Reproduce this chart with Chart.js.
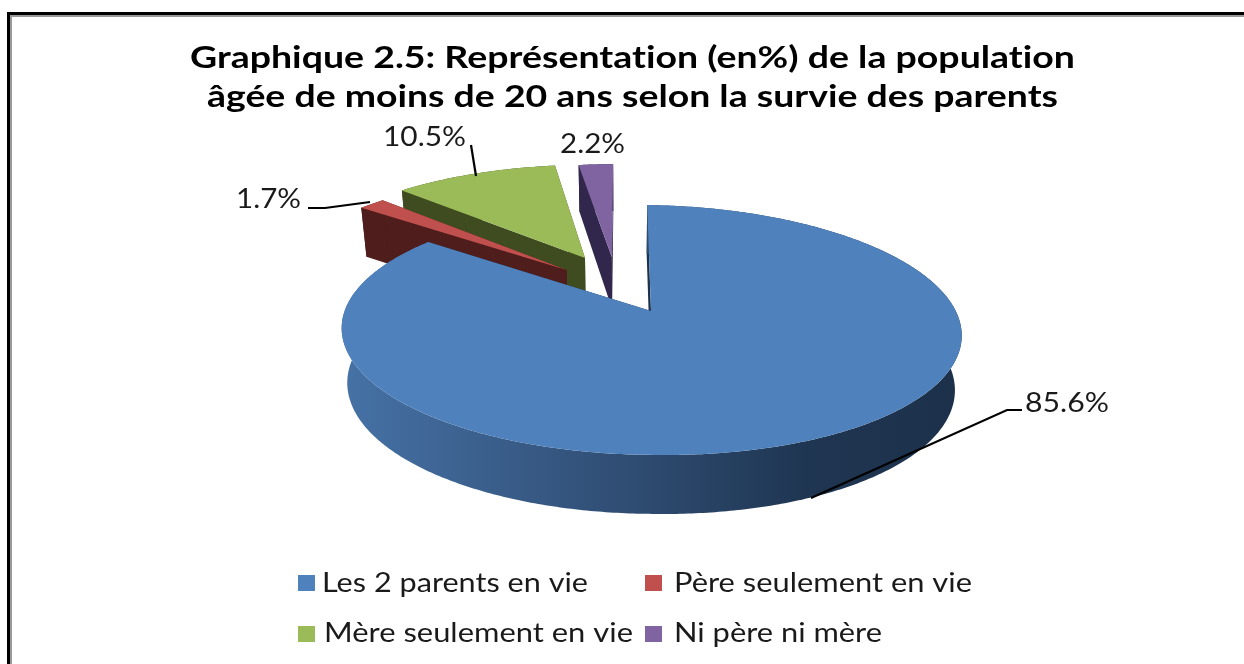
<!DOCTYPE html>
<html lang="fr">
<head>
<meta charset="utf-8">
<title>Graphique 2.5</title>
<style>
html,body{margin:0;padding:0;background:#fff;overflow:hidden}
#wrap{position:absolute;left:0;top:0;width:1244px;height:664px}
canvas{display:block;filter:blur(0.6px)}
</style>
</head>
<body>
<div id="wrap"><canvas id="c" width="1244" height="664"></canvas></div>
<script src="https://cdn.jsdelivr.net/npm/chart.js@4/dist/chart.umd.js"></script>
<script>
const titleLines = ["Graphique 2.5: Représentation (en%) de la population", "âgée de moins de 20 ans selon la survie des parents"];
const categories = ["Les 2 parents en vie", "Père seulement en vie", "Mère seulement en vie", "Ni père ni mère"];
const values = [85.6, 1.7, 10.5, 2.2];
const valueLabels = ["85.6%", "1.7%", "10.5%", "2.2%"];
const topColors = ["#4f81bd", "#c0504d", "#9bbb59", "#8064a2"];
const wallColors = ["#1d3149", "#4f1d1b", "#3e4c20", "#31264b"];

// --- perspective of the tilted disc (unit radius world -> screen)
const VP = {x: 622, ox: 29, rx: 306.4, y: 311, ry: 122, p: 0.152, shrink: 0.98, tilt: 0.012, tiltFrom: 650};
const explode = [[0, 0], [-0.285, -0.354], [-0.224, -0.465], [-0.13, -0.472]];
const drawOrder = [3, 2, 1, 0];
const project = (u, v, low) => {
  const w = 1 - VP.p * v;
  const s = low ? VP.shrink : 1;
  const x = VP.x + s * (VP.ox + VP.rx * u) / w;
  const drop = low ? 54 + 5 * v : 0;
  return [x, VP.y + VP.ry * v / w + drop + Math.max(0, x - VP.tiltFrom) * VP.tilt];
};

function poly(ctx, pts, fill) {
  ctx.beginPath();
  pts.forEach((p, i) => i ? ctx.lineTo(p[0], p[1]) : ctx.moveTo(p[0], p[1]));
  ctx.closePath();
  ctx.fillStyle = fill;
  ctx.fill();
}

// Slices keep the library's computed start/end angles; only the projection is 3D.
Chart.ArcElement.prototype.draw = function (ctx) {
  const idx = this.$context.dataIndex;
  const [sx, sy] = explode[idx];
  const a0 = this.startAngle, a1 = this.endAngle;
  const n = Math.max(6, Math.ceil((a1 - a0) * 90));
  const rim = [];
  for (let i = 0; i <= n; i++) {
    const a = a0 + (a1 - a0) * i / n;
    rim.push([sx + Math.cos(a), sy + Math.sin(a)]);
  }
  const apex = [sx, sy];
  const wall = (p, q) => [project(p[0], p[1]), project(q[0], q[1]), project(q[0], q[1], true), project(p[0], p[1], true)];
  ctx.save();
  poly(ctx, wall(apex, rim[0]), wallColors[idx]);
  poly(ctx, wall(apex, rim[n]), wallColors[idx]);
  let fill = wallColors[idx];
  if (idx === 0) {
    fill = ctx.createLinearGradient(342, 0, 962, 0);
    fill.addColorStop(0, "#4672a6");
    fill.addColorStop(0.47, "#2f4c72");
    fill.addColorStop(0.75, "#1f3652");
    fill.addColorStop(1, "#1c304a");
  }
  const outer = rim.map(p => project(p[0], p[1]))
    .concat(rim.slice().reverse().map(p => project(p[0], p[1], true)));
  poly(ctx, outer, fill);
  poly(ctx, [project(sx, sy)].concat(rim.map(p => project(p[0], p[1]))), topColors[idx]);
  ctx.restore();
};
Chart.PieController.prototype.draw = function () {
  const arcs = this.getMeta().data, ctx = this.chart.ctx;
  drawOrder.forEach(i => arcs[i].draw(ctx));
};

function fitText(ctx, text, x0, x1, base, font, color) {
  ctx.save();
  ctx.font = font;
  ctx.letterSpacing = "0.01px";
  ctx.fillStyle = color;
  ctx.textBaseline = "alphabetic";
  ctx.textAlign = "left";
  const w = ctx.measureText(text).width;
  ctx.translate(x0, base);
  ctx.scale((x1 - x0) / w, 1);
  ctx.fillText(text, 0, 0);
  ctx.restore();
}

const decor = {
  id: "decor",
  beforeDraw(chart) {
    const ctx = chart.ctx;
    ctx.save();
    ctx.fillStyle = "#fff";
    ctx.fillRect(0, 0, 1244, 664);
    ctx.fillStyle = "#9a9a9a";
    ctx.fillRect(10, 15, 1234, 2);
    ctx.fillRect(10, 15, 2, 649);
    ctx.fillStyle = "#000";
    ctx.fillRect(7, 12, 1237, 3);
    ctx.fillRect(7, 12, 3, 652);
    ctx.restore();
  },
  afterDraw(chart) {
    const ctx = chart.ctx;
    const bold = '700 30px Lato', reg = '400 26px Lato', ink = "#1a1a1a";
    fitText(ctx, titleLines[0], 190, 1075, 68, bold, "#000");
    fitText(ctx, titleLines[1], 207, 1058, 107, bold, "#000");

    // value labels and leader lines
    fitText(ctx, valueLabels[0], 1025, 1109, 412, reg, ink);
    fitText(ctx, valueLabels[1], 236, 301, 208, reg, ink);
    fitText(ctx, valueLabels[2], 383, 466, 146, reg, ink);
    fitText(ctx, valueLabels[3], 560, 625, 153, reg, ink);
    ctx.save();
    ctx.strokeStyle = "#000";
    ctx.lineWidth = 2.2;
    [[[1022, 410], [1007, 410], [811, 498]],
     [[308, 208], [325, 208], [370, 202]],
     [[471, 145], [476, 176]]].forEach(l => {
      ctx.beginPath();
      l.forEach((p, i) => i ? ctx.lineTo(p[0], p[1]) : ctx.moveTo(p[0], p[1]));
      ctx.stroke();
    });
    ctx.restore();

    // legend
    const rows = [
      [298, 575, 322, 588, 592], [645, 575, 674, 972, 592],
      [298, 626, 324, 633, 642], [645, 626, 674, 882, 642]
    ];
    rows.forEach((r, i) => {
      ctx.fillStyle = topColors[i];
      ctx.fillRect(r[0], r[1], 17, 16);
      fitText(ctx, categories[i], r[2], r[3], r[4], reg, ink);
    });
  }
};

new Chart(document.getElementById("c"), {
  type: "pie",
  data: {
    labels: categories,
    datasets: [{data: values, backgroundColor: topColors, borderWidth: 0, clip: false}]
  },
  options: {
    responsive: false,
    animation: false,
    events: [],
    rotation: 0,
    plugins: {legend: {display: false}, title: {display: false}, tooltip: {enabled: false}}
  },
  plugins: [decor]
});
</script>
</body>
</html>
